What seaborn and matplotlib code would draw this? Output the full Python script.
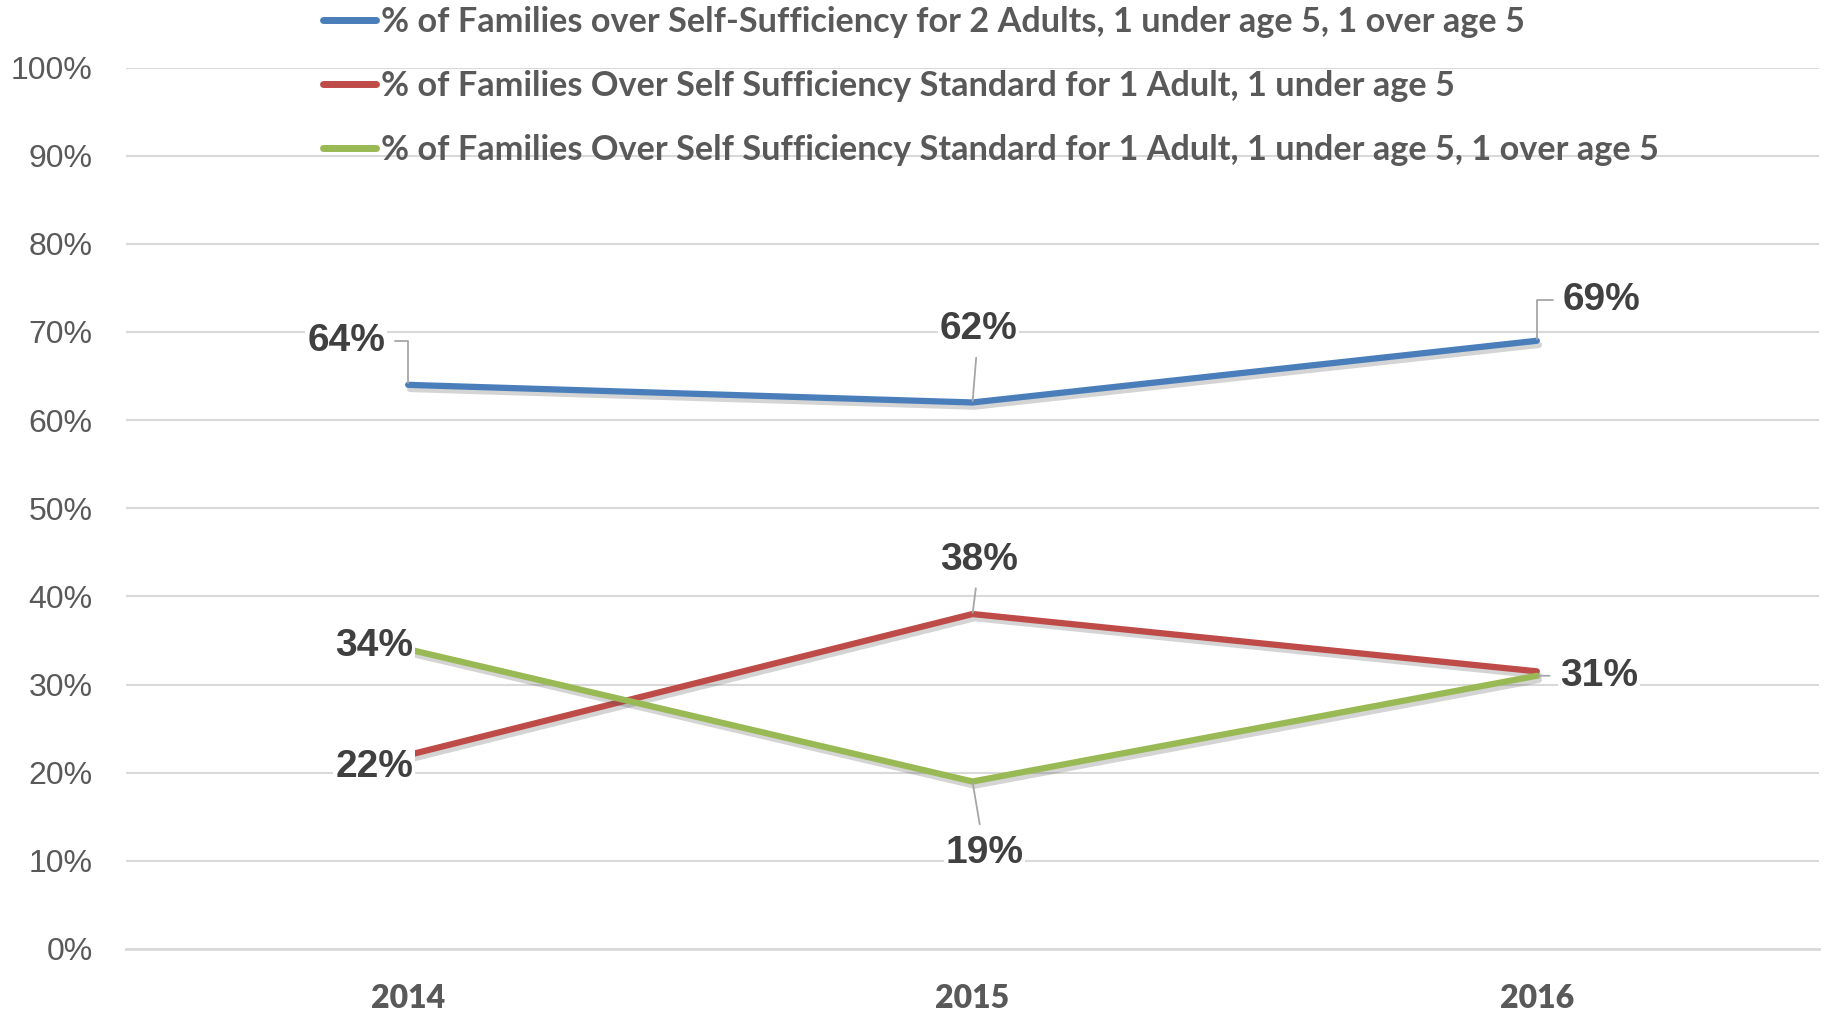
import matplotlib
matplotlib.use("Agg")
import matplotlib.pyplot as plt
import matplotlib.patheffects as pe
import seaborn as sns
import pandas as pd

# ---- data ----
years = ["2014", "2015", "2016"]
series_names = [
    "% of Families over Self-Sufficiency for 2 Adults, 1 under age 5, 1 over age 5",
    "% of Families Over Self Sufficiency Standard for 1 Adult, 1 under age 5",
    "% of Families Over Self Sufficiency Standard for 1 Adult, 1 under age 5, 1 over age 5",
]
blue_vals = [0.64, 0.62, 0.69]
red_vals = [0.22, 0.38, 0.315]
green_vals = [0.34, 0.19, 0.31]
label_texts = [["64%", "62%", "69%"], ["22%", "38%", None], ["34%", "19%", "31%"]]
yticks = [0, 0.1, 0.2, 0.3, 0.4, 0.5, 0.6, 0.7, 0.8, 0.9, 1.0]
ytick_labels = ["0%", "10%", "20%", "30%", "40%", "50%", "60%", "70%", "80%", "90%", "100%"]

colors = ["#4A7EBB", "#BE4B48", "#98B954"]

rows = []
for name, vals in zip(series_names, [blue_vals, red_vals, green_vals]):
    for y, v in zip(years, vals):
        rows.append({"Year": y, "Value": v, "Series": name})
df = pd.DataFrame(rows)

# ---- style ----
sns.set_theme(style="white")
plt.rcParams["font.family"] = ["Liberation Sans", "DejaVu Sans"]

fig = plt.figure(figsize=(18.26, 10.17), dpi=100)
ax = fig.add_axes([126 / 1826, 1 - 949 / 1017, (1819 - 126) / 1826, (949 - 67.5) / 1017])

sns.lineplot(data=df, x="Year", y="Value", hue="Series", hue_order=series_names,
             palette=colors, linewidth=4.5, sort=False, ax=ax, legend=True)

for line in ax.get_lines():
    line.set_solid_capstyle("round")
    line.set_path_effects([pe.SimpleLineShadow(offset=(1.5, -3), shadow_color="#555555", alpha=0.25),
                           pe.Normal()])

ax.set_xlim(-0.5, 2.5)
ax.set_ylim(0, 1.0)
ax.set_yticks(yticks)
ax.set_yticklabels(ytick_labels)
ax.yaxis.grid(True, color="#d9d9d9", linewidth=1.5)
ax.set_axisbelow(True)
for s in ["top", "right", "left"]:
    ax.spines[s].set_visible(False)
ax.spines["bottom"].set_color("#d9d9d9")
ax.spines["bottom"].set_linewidth(2)
ax.tick_params(axis="y", length=0, pad=24, labelsize=23, labelcolor="#595959")
ax.tick_params(axis="x", length=0, pad=25, labelsize=23, labelcolor="#595959")
for t in ax.get_yticklabels():
    t.set_verticalalignment("center_baseline")
for t in ax.get_xticklabels():
    t.set_fontfamily(["Lato", "DejaVu Sans"])
    t.set_fontweight("heavy")
ax.set_xlabel("")
ax.set_ylabel("")

# ---- data labels (offsets in pixels from the point) ----
offsets = [[(-62, 44), (6, 73), (65, 41)],
           [(-34, -12), (7, 54), None],
           [(-34, 3), (12, -71), (62, 0)]]
leaders = [[("angle", 0.5), ("line", 0), ("angle", 0.5)],
           [None, ("line", 0), None],
           [None, ("line", 0), ("line", 0)]]
all_vals = [blue_vals, red_vals, green_vals]
for si in range(3):
    for i in range(3):
        txt = label_texts[si][i]
        if txt is None:
            continue
        dx, dy = offsets[si][i]
        kw = {}
        ld = leaders[si][i]
        if ld is not None:
            if ld[0] == "angle":
                cs = "angle,angleA=0,angleB=90,rad=0"
            else:
                cs = "arc3,rad=0"
            kw["arrowprops"] = dict(arrowstyle="-", color="#a6a6a6", lw=1.3,
                                    shrinkA=6, shrinkB=1, connectionstyle=cs)
        ax.annotate(txt, xy=(i, all_vals[si][i]), xytext=(dx, dy),
                    textcoords="offset pixels", ha="center", va="center",
                    fontsize=28, fontweight="bold", color="#404040",
                    bbox=dict(boxstyle="square,pad=0.05", fc="white", ec="none"),
                    zorder=5, **kw)

# ---- legend ----
handles, labels = ax.get_legend_handles_labels()
ax.get_legend().remove()
leg = fig.legend(handles, labels, loc="upper left", bbox_to_anchor=(323 / 1826, 1.0 - 6.5 / 1017),
                 frameon=False, handlelength=1.55, handletextpad=0.14,
                 labelspacing=0.92, borderpad=0.0, borderaxespad=0.0,
                 prop={"family": ["Lato", "DejaVu Sans"], "weight": "bold", "size": 24.7})
for t in leg.get_texts():
    t.set_color("#595959")
for h in leg.legend_handles:
    h.set_linewidth(5)
    h.set_path_effects([])

fig.savefig("out.png", dpi=100)
